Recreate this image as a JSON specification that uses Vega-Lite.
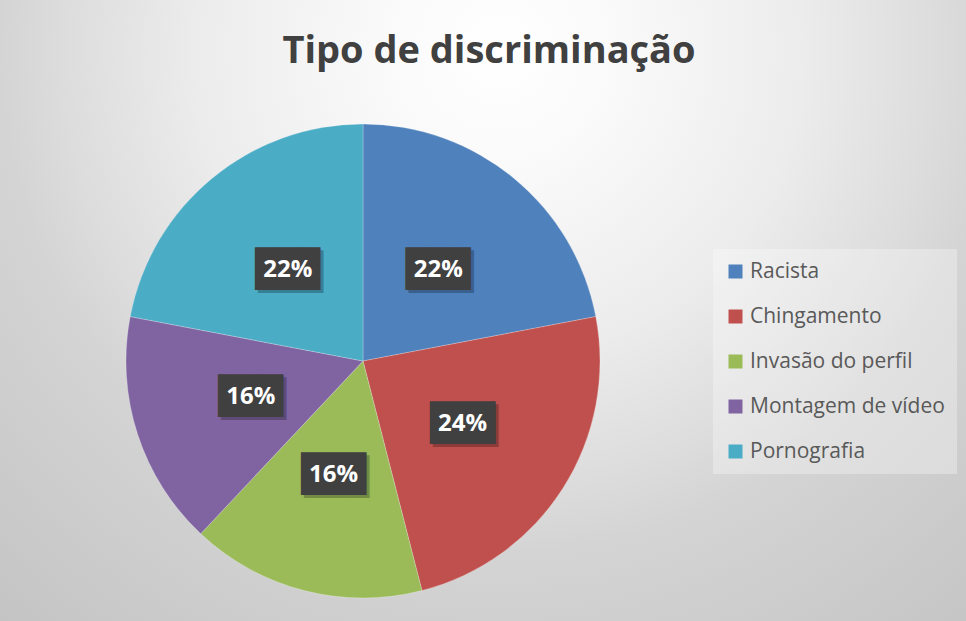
{
  "$schema": "https://vega.github.io/schema/vega-lite/v6.json",
  "width": 474,
  "height": 474,
  "autosize": {"type": "none"},
  "padding": {"left": 126, "top": 124, "right": 366, "bottom": 23},
  "background": "#ffffff",
  "title": {
    "text": "Tipo de discriminação",
    "font": "Open Sans",
    "fontSize": 38,
    "fontWeight": "bold",
    "color": "#404040",
    "anchor": "middle",
    "dx": 126,
    "offset": -540,
    "baseline": "alphabetic"
  },
  "data": {
    "values": [
      {"categoria": "Racista", "pct": 0.22, "ordem": 1},
      {"categoria": "Chingamento", "pct": 0.24, "ordem": 2},
      {"categoria": "Invasão do perfil", "pct": 0.16, "ordem": 3},
      {"categoria": "Montagem de vídeo", "pct": 0.16, "ordem": 4},
      {"categoria": "Pornografia", "pct": 0.22, "ordem": 5}
    ]
  },
  "layer": [
    {
      "data": {"values": [{"fundo": 1}]},
      "mark": {
        "type": "arc",
        "outerRadius": 800,
        "color": {
          "gradient": "radial",
          "x1": 0.5856, "y1": 0.3056, "r1": 0,
          "x2": 0.5856, "y2": 0.3056, "r2": 0.475,
          "stops": [
            {"offset": 0, "color": "#ffffff"},
            {"offset": 0.15, "color": "#fafafa"},
            {"offset": 0.4, "color": "#ececec"},
            {"offset": 0.58, "color": "#dcdcdc"},
            {"offset": 0.66, "color": "#d4d4d4"},
            {"offset": 1, "color": "#c4c4c4"}
          ]
        }
      },
      "encoding": {}
    },
    {
      "mark": {"type": "arc", "outerRadius": 237, "stroke": "#ffffff", "strokeWidth": 0.4, "strokeOpacity": 0.6},
      "encoding": {
        "theta": {"field": "pct", "type": "quantitative", "stack": true},
        "order": {"field": "ordem", "type": "quantitative"},
        "color": {
          "field": "categoria",
          "type": "nominal",
          "sort": ["Racista", "Chingamento", "Invasão do perfil", "Montagem de vídeo", "Pornografia"],
          "scale": {
            "domain": ["Racista", "Chingamento", "Invasão do perfil", "Montagem de vídeo", "Pornografia"],
            "range": ["#4f81bd", "#c0504d", "#9bbb59", "#8064a2", "#4bacc6"]
          },
          "legend": {
            "title": null,
            "orient": "none",
            "legendX": 587,
            "legendY": 125,
            "symbolType": "square",
            "symbolSize": 196,
            "symbolStrokeWidth": 0,
            "labelFont": "Open Sans",
            "labelFontSize": 21,
            "labelColor": "#595959",
            "labelOffset": 4,
            "labelLimit": 400,
            "rowPadding": 23,
            "padding": 12,
            "fillColor": "rgba(255,255,255,0.3)"
          }
        }
      }
    },
    {
      "mark": {"type": "text", "radius": 118, "font": "DejaVu Sans Mono", "fontSize": 36, "color": "#000000", "opacity": 0.25, "dx": 3, "dy": 3, "baseline": "middle", "align": "center"},
      "encoding": {
        "theta": {"field": "pct", "type": "quantitative", "stack": true},
        "order": {"field": "ordem", "type": "quantitative"},
        "detail": {"field": "categoria"},
        "text": {"value": "███"}
      }
    },
    {
      "mark": {"type": "text", "radius": 118, "font": "DejaVu Sans Mono", "fontSize": 36, "color": "#404040", "baseline": "middle", "align": "center"},
      "encoding": {
        "theta": {"field": "pct", "type": "quantitative", "stack": true},
        "order": {"field": "ordem", "type": "quantitative"},
        "detail": {"field": "categoria"},
        "text": {"value": "███"}
      }
    },
    {
      "mark": {"type": "text", "radius": 118, "font": "Open Sans", "fontSize": 24, "fontWeight": "bold", "color": "#ffffff", "baseline": "middle", "align": "center"},
      "encoding": {
        "theta": {"field": "pct", "type": "quantitative", "stack": true},
        "order": {"field": "ordem", "type": "quantitative"},
        "detail": {"field": "categoria"},
        "text": {"field": "pct", "type": "quantitative", "format": ".0%"}
      }
    }
  ],
  "config": {"view": {"stroke": null}}
}
